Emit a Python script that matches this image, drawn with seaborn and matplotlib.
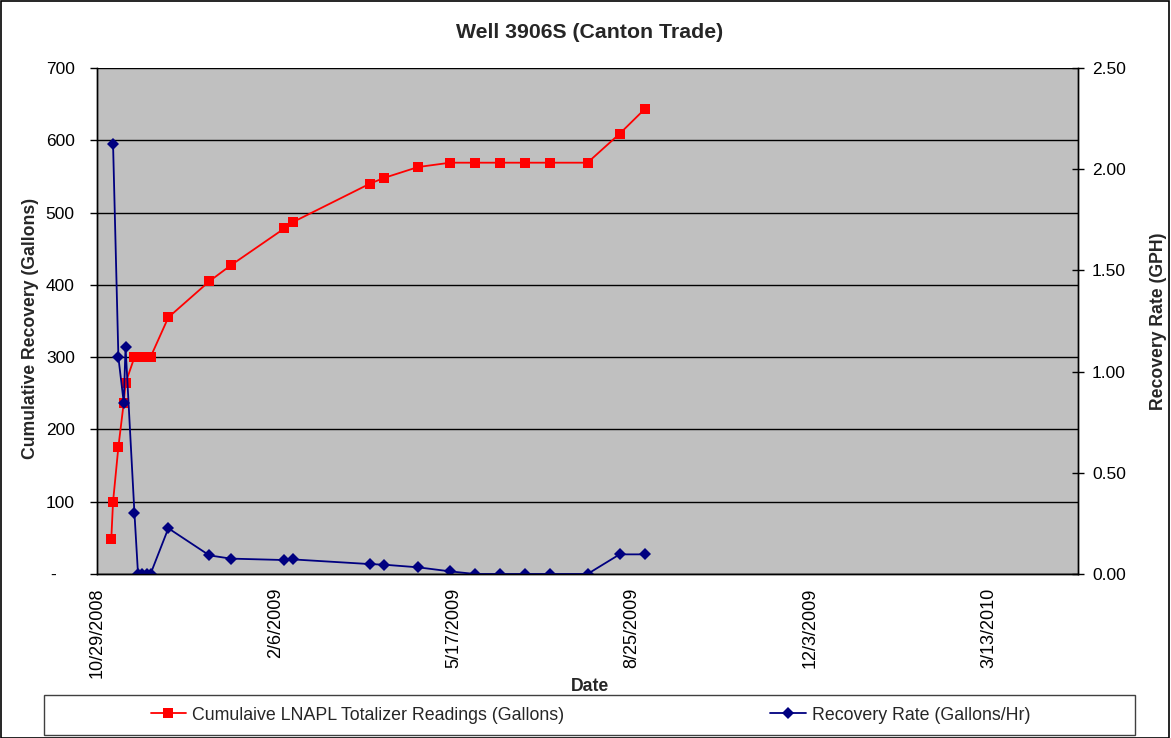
import matplotlib
matplotlib.use("Agg")
import matplotlib.pyplot as plt
import matplotlib.dates as mdates
from matplotlib.patches import Rectangle
from matplotlib.ticker import FixedLocator, FuncFormatter
from matplotlib.transforms import ScaledTranslation
import seaborn as sns
import pandas as pd

sns.set_theme(style="white")
plt.rcParams["font.family"] = ["Liberation Sans", "DejaVu Sans"]

# Cumulative totalizer readings (gallons)
total_dates = ["2008-11-06", "2008-11-07", "2008-11-10", "2008-11-13", "2008-11-14",
               "2008-11-19", "2008-11-21", "2008-11-23", "2008-11-26", "2008-11-28",
               "2008-12-08", "2008-12-31", "2009-01-12", "2009-02-11", "2009-02-16",
               "2009-03-31", "2009-04-08", "2009-04-27", "2009-05-15", "2009-05-29",
               "2009-06-12", "2009-06-26", "2009-07-10", "2009-07-31", "2009-08-18",
               "2009-09-01"]
total_gallons = [48, 100, 176, 237, 264,
                 300, 300, 300, 300, 300,
                 355, 405, 427, 478, 487,
                 540, 548, 563, 569, 569,
                 569, 569, 569, 569, 609,
                 643]

# Recovery rate (gallons per hour)
rate_dates = ["2008-11-07", "2008-11-10", "2008-11-13", "2008-11-14", "2008-11-19",
              "2008-11-21", "2008-11-23", "2008-11-26", "2008-11-28",
              "2008-12-08", "2008-12-31", "2009-01-12", "2009-02-11", "2009-02-16",
              "2009-03-31", "2009-04-08", "2009-04-27", "2009-05-15", "2009-05-29",
              "2009-06-12", "2009-06-26", "2009-07-10", "2009-07-31", "2009-08-18",
              "2009-09-01"]
rate_gph = [2.125, 1.07, 0.846, 1.123, 0.30,
            0.0, 0.0, 0.0, 0.0,
            0.226, 0.092, 0.076, 0.069, 0.072,
            0.049, 0.046, 0.033, 0.013, 0.0,
            0.0, 0.0, 0.0, 0.0, 0.097,
            0.097]

x_tick_dates = ["2008-10-29", "2009-02-06", "2009-05-17", "2009-08-25", "2009-12-03", "2010-03-13"]
x_tick_labels = ["10/29/2008", "2/6/2009", "5/17/2009", "8/25/2009", "12/3/2009", "3/13/2010"]
x_range = ["2008-10-29", "2010-05-02"]

total_df = pd.DataFrame({"Date": pd.to_datetime(total_dates), "Gallons": total_gallons})
rate_df = pd.DataFrame({"Date": pd.to_datetime(rate_dates), "GPH": rate_gph})

W, H = 1171, 738
fig = plt.figure(figsize=(W / 100, H / 100), dpi=100)
fig.patch.set_facecolor("white")
ax = fig.add_axes([97 / W, 1 - 574 / H, (1078 - 97) / W, (574 - 68) / H])
ax.set_facecolor("#C0C0C0")

sns.lineplot(data=total_df, x="Date", y="Gallons", ax=ax, color="#FF0000",
             marker="s", markersize=7.5, markeredgewidth=0, linewidth=1.3,
             sort=False, estimator=None, legend=False)

ax2 = ax.twinx()
sns.lineplot(data=rate_df, x="Date", y="GPH", ax=ax2, color="#000080",
             marker="D", markersize=6, markeredgewidth=0, linewidth=1.3,
             sort=False, estimator=None, legend=False)

# axes ranges and grid
ax.set_ylim(0, 700)
ax2.set_ylim(0, 2.5)
ax.set_xlim(pd.to_datetime(x_range[0]), pd.to_datetime(x_range[1]))
ax.yaxis.set_major_locator(FixedLocator(range(0, 701, 100)))
ax.yaxis.set_major_formatter(FuncFormatter(lambda v, p: "-" if v == 0 else f"{v:.0f}"))
ax2.yaxis.set_major_locator(FixedLocator([0, 0.5, 1.0, 1.5, 2.0, 2.5]))
ax2.yaxis.set_major_formatter(FuncFormatter(lambda v, p: f"{v:.2f}"))
ax.grid(axis="y", color="black", linewidth=1.0)
ax.set_axisbelow(True)

xt = [mdates.date2num(pd.to_datetime(d)) for d in x_tick_dates]
ax.set_xticks(xt)
ax.set_xticklabels(x_tick_labels, rotation=90, fontsize=13)

for a in (ax, ax2):
    for s in a.spines.values():
        s.set_color("black")
        s.set_linewidth(1.0)
    a.spines["top"].set_visible(False)
ax.tick_params(axis="y", which="major", direction="out", length=5, width=1,
               labelsize=12.5, colors="black", pad=11)
ax.tick_params(axis="x", direction="out", length=5, width=1, colors="black", pad=5)
ax2.tick_params(axis="y", direction="inout", length=8, width=1,
                labelsize=12.5, colors="black", pad=6)

# the zero label sits further left, as in accounting number format
zero_label = ax.yaxis.get_major_ticks()[0].label1
zero_label.set_transform(zero_label.get_transform() +
                         ScaledTranslation(-0.19, 0, fig.dpi_scale_trans))

ax.set_xlabel("Date", fontsize=12.7, fontweight="bold")
ax.set_ylabel("Cumulative Recovery (Gallons)", fontsize=12.7, fontweight="bold")
ax2.set_ylabel("Recovery Rate (GPH)", fontsize=12.7, fontweight="bold")
ax.xaxis.set_label_coords((590 - 97) / (1078 - 97), -(678 - 574) / (574 - 68))
ax.yaxis.set_label_coords((39 - 97) / (1078 - 97), 0.486)
ax2.yaxis.set_label_coords((1150 - 97) / (1078 - 97), 0.5)

fig.text(590 / W, 1 - 32 / H, "Well 3906S (Canton Trade)", ha="center", va="center",
         fontsize=15.3, fontweight="bold")

# legend strip below the axis
handles = [ax.get_lines()[0], ax2.get_lines()[0]]
labels = ["Cumulaive LNAPL Totalizer Readings (Gallons)", "Recovery Rate (Gallons/Hr)"]
fig.patches.append(Rectangle((44 / W, 1 - 735 / H), (1135 - 44) / W, 40 / H,
                             transform=fig.transFigure, facecolor="white",
                             edgecolor="#404040", linewidth=1.0))
fig.legend(handles, labels, loc="center", bbox_to_anchor=(590.5 / W, 1 - 715 / H),
           ncol=2, frameon=False, fontsize=12.8, columnspacing=11.6,
           handlelength=2.0, handletextpad=0.33, numpoints=1)

# outer chart border
fig.patches.append(Rectangle((0.5 / W, 0.5 / H), (W - 3) / W, (H - 1.5) / H,
                             transform=fig.transFigure, facecolor="none",
                             edgecolor="black", linewidth=1.2))

fig.savefig("out.png", dpi=100)
